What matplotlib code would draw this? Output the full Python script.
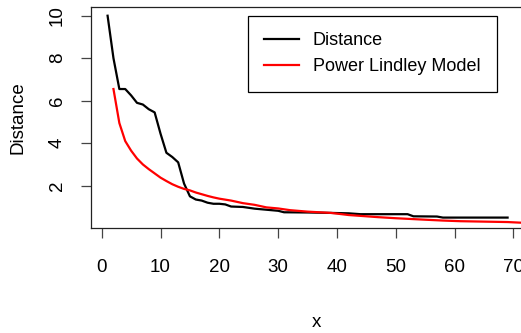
import matplotlib
matplotlib.use("Agg")
import matplotlib.pyplot as plt

# Data
# ----------------------------------
dist_x = [1, 2, 3, 4, 5, 6, 7, 8, 9, 10, 11, 12, 13, 14, 15, 16, 17, 18, 19, 20,
          21, 22, 24, 26, 28, 30, 31, 35, 39, 42, 44, 52, 53, 57, 58, 66, 69]
dist_y = [10.0, 8.0, 6.55, 6.55, 6.25, 5.9, 5.82, 5.6, 5.45, 4.45, 3.55, 3.35, 3.1,
          2.1, 1.5, 1.35, 1.3, 1.2, 1.15, 1.15, 1.12, 1.02, 1.0, 0.92, 0.87, 0.82,
          0.75, 0.74, 0.72, 0.70, 0.66, 0.66, 0.56, 0.55, 0.50, 0.50, 0.50]

model_x = [2, 3, 4, 5, 6, 7, 8, 9, 10, 11, 12, 13, 14, 15, 16, 17, 18, 19, 20,
           22, 24, 26, 28, 30, 32, 35, 39, 42, 44, 47, 50, 55, 58, 61, 65, 69, 72]
model_y = [6.55, 4.95, 4.1, 3.65, 3.28, 3.0, 2.78, 2.58, 2.38, 2.22, 2.07, 1.95,
           1.85, 1.78, 1.68, 1.6, 1.52, 1.45, 1.39, 1.3, 1.18, 1.1, 0.98, 0.93,
           0.85, 0.78, 0.72, 0.62, 0.58, 0.52, 0.47, 0.40, 0.36, 0.33, 0.31, 0.29,
           0.25]

x_ticks = [0, 10, 20, 30, 40, 50, 60, 70]
y_ticks = [2, 4, 6, 8, 10]

plt.rcParams["font.family"] = ["Liberation Sans", "DejaVu Sans"]
fs = 13.5

fig = plt.figure(figsize=(5.21, 3.33), dpi=100)
ax = fig.add_axes([90.7 / 521, 105 / 333, 451 / 521, 221 / 333])

ax.plot(dist_x, dist_y, color="black", lw=1.6, label="Distance")
ax.plot(model_x, model_y, color="red", lw=1.6, label="Power Lindley Model")

ax.set_xlim(-1.87, 74.8)
ax.set_ylim(0.01, 10.41)
ax.set_xticks(x_ticks)
ax.set_yticks(y_ticks)
ax.tick_params(axis="both", length=7, width=0.9, color="#444444", labelsize=fs)
ax.tick_params(axis="x", pad=15)
ax.tick_params(axis="y", pad=11)
for lab in ax.get_yticklabels():
    lab.set_rotation(90)
    lab.set_va("center")

for sp in ax.spines.values():
    sp.set_linewidth(0.9)
    sp.set_color("#222222")

ax.set_xlabel("x", fontsize=fs, labelpad=28)
ax.set_ylabel("Distance", fontsize=fs, labelpad=16)

leg = ax.legend(loc="upper left", bbox_to_anchor=(248 / 521, 1 - 16 / 333),
                bbox_transform=fig.transFigure, fontsize=13, fancybox=False,
                framealpha=1, edgecolor="black", handlelength=1.9,
                handletextpad=0.8, borderpad=0.9, labelspacing=0.5,
                borderaxespad=0)
leg.get_frame().set_linewidth(0.9)

fig.savefig("out.png", dpi=100)
